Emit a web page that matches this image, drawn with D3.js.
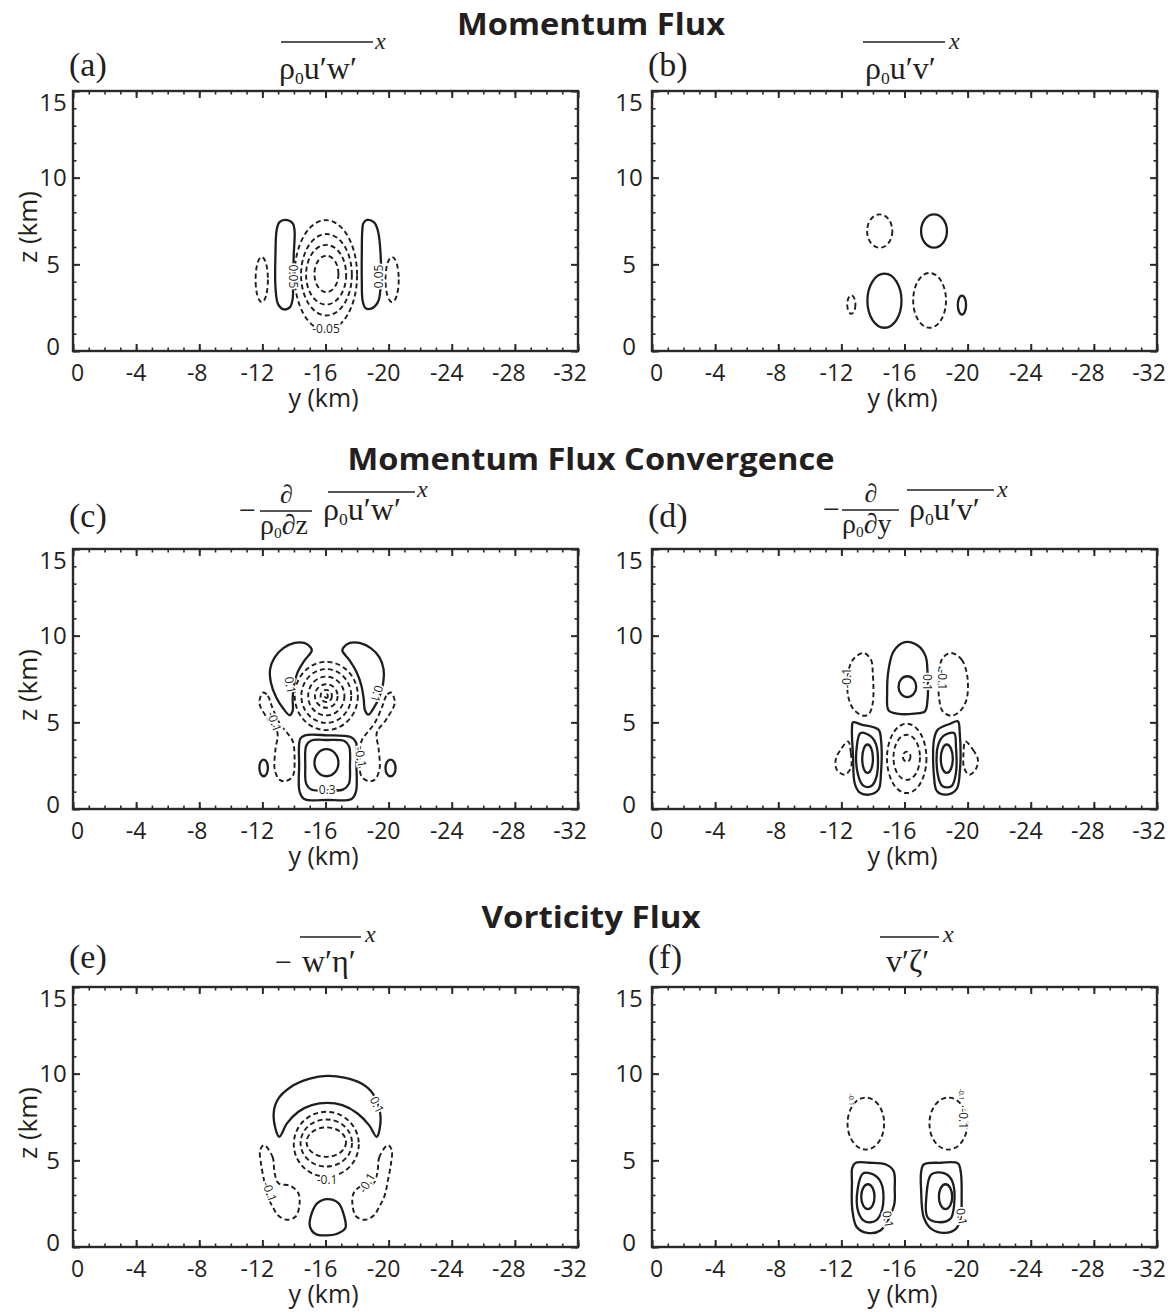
<!DOCTYPE html>
<html><head><meta charset="utf-8">
<script src="https://cdn.jsdelivr.net/npm/d3@7"></script>
<style>body{margin:0;background:#fff}</style>
</head><body>
<svg id="chart" width="1173" height="1312"></svg>
<script>
// ---------------- DATA ----------------
const rowTitles = ["Momentum Flux", "Momentum Flux Convergence", "Vorticity Flux"];
const panelLetters = ["(a)", "(b)", "(c)", "(d)", "(e)", "(f)"];
const yTickValues = [0, -4, -8, -12, -16, -20, -24, -28, -32];
const yTickLabels = ["0", "-4", "-8", "-12", "-16", "-20", "-24", "-28", "-32"];
const zTickValues = [0, 5, 10, 15];
const yDomain = [0, -32];
const zDomain = [0, 15];

// contours: level (negative = dashed); ellipse = [yc, zc, ry, rz] in km; points = [[y,z],...] in km
const contoursA = [
  {level: -0.20, ellipse: [-16.06, 4.45, 0.76, 1.05]},
  {level: -0.15, ellipse: [-16.04, 4.40, 1.27, 1.72]},
  {level: -0.10, ellipse: [-16.06, 4.40, 1.61, 2.35]},
  {level: -0.05, ellipse: [-16.02, 4.37, 1.98, 3.18]},
  {level: -0.05, ellipse: [-11.96, 4.12, 0.39, 1.30]},
  {level: -0.05, ellipse: [-20.22, 4.12, 0.42, 1.30]},
  {level: 0.05, points: [[-13.43,7.56],[-13.92,7.37],[-14.04,6.94],[-13.99,5.60],[-13.94,4.07],[-13.92,3.01],[-13.75,2.53],[-13.36,2.40],[-13.00,2.69],[-12.83,3.68],[-12.83,5.60],[-12.90,6.94],[-13.07,7.42]]},
  {level: 0.05, points: [[-18.64,7.56],[-19.08,7.42],[-19.32,6.94],[-19.49,5.60],[-19.49,3.68],[-19.32,2.82],[-18.88,2.44],[-18.52,2.49],[-18.35,2.92],[-18.30,4.07],[-18.30,5.60],[-18.33,6.94],[-18.40,7.37]]}
];
const labelsA = [
  {text: "0.05", at: [-13.97, 4.30], angle: 90},
  {text: "0.05", at: [-19.40, 4.30], angle: -90},
  {text: "-0.05", at: [-16.03, 1.30], angle: 0}
];

const contoursB = [
  {level: -0.05, ellipse: [-14.43, 6.92, 0.80, 0.96]},
  {level: 0.05, ellipse: [-17.87, 6.92, 0.82, 0.96]},
  {level: 0.05, ellipse: [-14.73, 2.90, 1.08, 1.56]},
  {level: -0.05, ellipse: [-17.59, 2.92, 1.04, 1.58]},
  {level: -0.05, ellipse: [-12.63, 2.68, 0.26, 0.53]},
  {level: 0.05, ellipse: [-19.64, 2.65, 0.26, 0.55]}
];
const labelsB = [];

const contoursC = [
  {level: 0.1, points: [[-15.06,9.32],[-14.65,9.58],[-14.04,9.58],[-13.31,9.27],[-12.78,8.75],[-12.49,8.07],[-12.54,7.30],[-12.88,6.43],[-13.36,5.75],[-13.73,5.41],[-13.92,5.66],[-13.92,6.33],[-13.99,7.10],[-14.23,7.88],[-14.65,8.55],[-15.13,9.13]]},
  {level: 0.1, points: [[-17.14,9.32],[-17.55,9.58],[-18.16,9.58],[-18.89,9.27],[-19.42,8.75],[-19.68,8.07],[-19.66,7.30],[-19.40,6.43],[-19.00,5.75],[-18.72,5.45],[-18.50,5.70],[-18.42,6.35],[-18.28,7.10],[-17.98,7.88],[-17.55,8.55],[-17.07,9.13]]},
  {level: -0.1, ellipse: [-16.05, 6.52, 2.00, 1.97]},
  {level: -0.3, ellipse: [-16.05, 6.52, 1.58, 1.55]},
  {level: -0.5, ellipse: [-16.05, 6.52, 1.15, 1.12]},
  {level: -0.7, ellipse: [-16.05, 6.52, 0.72, 0.68]},
  {level: -0.9, ellipse: [-16.05, 6.52, 0.36, 0.35]},
  {level: -1.1, ellipse: [-16.05, 6.52, 0.10, 0.12]},
  {level: 0.1, points: [[-14.40,4.05],[-14.70,4.25],[-16.10,4.25],[-17.60,4.15],[-17.93,3.85],[-17.96,2.50],[-17.93,1.00],[-17.65,0.58],[-16.15,0.52],[-14.65,0.58],[-14.36,1.00],[-14.33,2.50]]},
  {level: 0.3, points: [[-14.78,3.65],[-15.10,3.95],[-16.10,3.98],[-17.20,3.92],[-17.50,3.60],[-17.55,2.50],[-17.48,1.45],[-17.10,1.12],[-16.10,1.08],[-15.10,1.12],[-14.78,1.45],[-14.72,2.50]]},
  {level: 0.5, ellipse: [-16.06, 2.67, 0.76, 0.78]},
  {level: -0.1, points: [[-12.06,6.72],[-12.35,6.53],[-12.59,5.95],[-13.07,4.98],[-13.56,4.40],[-13.92,3.92],[-14.04,2.86],[-13.92,1.89],[-13.43,1.60],[-13.07,1.70],[-12.78,2.28],[-12.83,3.44],[-12.95,4.40],[-12.35,5.17],[-11.81,6.14]]},
  {level: -0.1, points: [[-20.14,6.72],[-19.85,6.53],[-19.61,5.95],[-19.13,4.98],[-18.64,4.40],[-18.28,3.92],[-18.16,2.86],[-18.28,1.89],[-18.77,1.60],[-19.13,1.70],[-19.42,2.28],[-19.37,3.44],[-19.25,4.40],[-19.85,5.17],[-20.39,6.14]]},
  {level: 0.1, ellipse: [-12.08, 2.37, 0.27, 0.48]},
  {level: 0.1, ellipse: [-20.12, 2.37, 0.32, 0.48]}
];
const labelsC = [
  {text: "0.1", at: [-13.75, 7.15], angle: 80},
  {text: "0.1", at: [-19.25, 6.65], angle: 105},
  {text: "-0.1", at: [-12.75, 5.05], angle: 70},
  {text: "-0.1", at: [-18.22, 3.00], angle: 80},
  {text: "0.3", at: [-16.10, 1.12], angle: 0}
];

const contoursD = [
  {level: 0.1, points: [[-16.02,9.63],[-16.86,9.42],[-17.34,8.81],[-17.46,7.85],[-17.46,6.31],[-17.29,5.63],[-16.62,5.50],[-15.54,5.50],[-14.99,5.69],[-14.90,6.69],[-14.99,8.04],[-15.31,9.10]]},
  {level: 0.3, ellipse: [-16.18, 7.06, 0.56, 0.60]},
  {level: -0.1, points: [[-13.39,9.00],[-13.87,8.62],[-13.99,7.85],[-13.99,6.12],[-13.75,5.50],[-13.39,5.38],[-12.79,5.73],[-12.43,6.50],[-12.43,7.85],[-12.74,8.62]]},
  {level: -0.1, points: [[-18.97,9.00],[-19.62,8.62],[-19.98,7.65],[-19.93,6.31],[-19.50,5.63],[-18.97,5.38],[-18.42,5.63],[-18.18,6.50],[-18.18,7.85],[-18.42,8.71]]},
  {level: 0.1, points: [[-12.74,5.00],[-13.27,4.87],[-14.35,4.58],[-14.51,4.00],[-14.51,2.08],[-14.35,1.12],[-13.75,0.83],[-13.15,0.96],[-12.84,1.50],[-12.74,3.04],[-12.67,4.58]]},
  {level: 0.3, points: [[-13.22,4.38],[-13.87,4.19],[-14.23,3.62],[-14.23,1.88],[-13.87,1.31],[-13.39,1.35],[-13.03,2.08],[-12.98,3.62]]},
  {level: 0.5, ellipse: [-13.66, 2.90, 0.34, 0.82]},
  {level: 0.1, points: [[-19.38,5.06],[-19.50,4.38],[-19.50,2.08],[-19.30,1.15],[-18.66,0.83],[-18.06,1.02],[-17.87,1.88],[-17.87,4.00],[-18.11,4.58],[-18.90,4.92]]},
  {level: 0.3, points: [[-19.14,4.38],[-19.26,3.62],[-19.26,2.08],[-18.97,1.31],[-18.42,1.31],[-18.11,1.98],[-18.11,3.62],[-18.49,4.23]]},
  {level: 0.5, ellipse: [-18.68, 2.90, 0.38, 0.82]},
  {level: -0.1, ellipse: [-16.14, 2.92, 1.25, 2.00]},
  {level: -0.3, ellipse: [-16.14, 2.98, 0.84, 1.30]},
  {level: -0.5, ellipse: [-16.14, 3.02, 0.24, 0.29]},
  {level: -0.1, points: [[-12.43,3.90],[-12.60,3.23],[-12.60,2.37],[-12.19,1.98],[-11.71,2.27],[-11.64,2.85],[-11.95,3.42]]},
  {level: -0.1, points: [[-19.86,3.90],[-20.34,3.42],[-20.65,2.85],[-20.50,2.27],[-20.10,1.98],[-19.78,2.37],[-19.74,3.23]]}
];
const labelsD = [
  {text: "-0.1", at: [-12.35, 7.55], angle: -90},
  {text: "0.1", at: [-17.42, 7.30], angle: 90},
  {text: "-0.1", at: [-18.40, 7.45], angle: 90}
];

const contoursE = [
  {level: 0.1, points: [[-13.07,6.36],[-12.71,7.51],[-12.95,8.47],[-13.80,9.23],[-15.01,9.71],[-16.10,9.87],[-17.19,9.77],[-18.28,9.43],[-19.00,8.85],[-19.49,7.51],[-19.24,6.36],[-18.76,7.03],[-18.03,7.70],[-17.07,8.18],[-16.10,8.31],[-15.13,8.18],[-14.28,7.80],[-13.56,7.13]]},
  {level: -0.1, ellipse: [-16.05, 5.93, 2.06, 1.87]},
  {level: -0.3, ellipse: [-16.05, 6.00, 1.63, 1.36]},
  {level: -0.5, ellipse: [-16.05, 6.05, 1.25, 0.85]},
  {level: -0.1, points: [[-12.10,5.88],[-12.64,5.21],[-12.78,4.25],[-13.02,3.68],[-13.80,3.52],[-14.28,3.10],[-14.35,2.43],[-14.11,1.76],[-13.56,1.57],[-13.02,1.80],[-12.64,2.34],[-12.30,3.01],[-12.10,3.87],[-11.91,4.83],[-11.86,5.59]]},
  {level: -0.1, points: [[-19.96,5.88],[-19.42,5.21],[-19.28,4.25],[-19.04,3.68],[-18.26,3.52],[-17.78,3.10],[-17.71,2.43],[-17.95,1.76],[-18.50,1.57],[-19.04,1.80],[-19.42,2.34],[-19.76,3.01],[-19.96,3.87],[-20.15,4.83],[-20.20,5.59]]},
  {level: 0.1, points: [[-16.10,2.76],[-16.82,2.53],[-17.19,1.76],[-17.26,1.09],[-16.70,0.75],[-16.10,0.67],[-15.37,0.75],[-15.01,1.19],[-15.13,1.95],[-15.49,2.53]]}
];
const labelsE = [
  {text: "0.1", at: [-19.25, 8.20], angle: 65},
  {text: "-0.1", at: [-16.10, 3.90], angle: 0},
  {text: "-0.1", at: [-12.45, 3.20], angle: 70},
  {text: "-0.1", at: [-18.62, 3.70], angle: -60}
];

const contoursF = [
  {level: -0.1, ellipse: [-13.55, 7.12, 1.16, 1.50]},
  {level: -0.1, ellipse: [-18.78, 7.12, 1.20, 1.50]},
  {level: 0.1, points: [[-12.91,4.86],[-13.75,4.86],[-14.83,4.76],[-15.31,4.38],[-15.38,3.33],[-15.33,2.38],[-14.47,0.95],[-13.63,0.82],[-12.98,1.14],[-12.69,2.19],[-12.67,3.71],[-12.69,4.57]]},
  {level: 0.3, points: [[-13.39,4.25],[-14.18,4.10],[-14.59,3.52],[-14.59,2.19],[-14.18,1.52],[-13.51,1.47],[-13.08,2.00],[-13.03,3.33]]},
  {level: 0.5, ellipse: [-13.68, 2.90, 0.42, 0.72]},
  {level: 0.1, points: [[-17.22,4.76],[-18.30,4.86],[-19.38,4.82],[-19.57,4.29],[-19.62,2.76],[-19.57,1.71],[-19.26,1.05],[-18.54,0.82],[-17.70,1.05],[-17.22,1.71],[-17.05,3.33],[-17.05,4.29]]},
  {level: 0.3, points: [[-17.70,4.19],[-18.54,4.25],[-19.02,3.81],[-19.14,2.38],[-18.90,1.62],[-18.18,1.43],[-17.46,1.71],[-17.39,2.95]]},
  {level: 0.5, ellipse: [-18.60, 2.90, 0.42, 0.72]}
];
const labelsF = [
  {text: "0.1", at: [-14.95, 1.60], angle: 80},
  {text: "0.1", at: [-19.62, 1.75], angle: 80},
  {text: "-0.1", at: [-19.74, 7.40], angle: 90},
  {text: "-0.1", at: [-12.62, 8.50], angle: 90, small: true},
  {text: "-0.1", at: [-19.58, 8.80], angle: 90, small: true}
];

const panelContours = [contoursA, contoursB, contoursC, contoursD, contoursE, contoursF];
const panelLabels = [labelsA, labelsB, labelsC, labelsD, labelsE, labelsF];

// ---------------- LAYOUT ----------------
const W = 505, H = 260;
const colX = [73, 652];
const rowY = [91, 549, 987];
const INK = "#231f20";
const sans = "'Open Sans', 'Noto Sans', sans-serif";
const serif = "'Liberation Serif', 'Times New Roman', serif";

const svg = d3.select("#chart");

// row titles
const titleLayout = [{y: 35, w: 268}, {y: 470, w: 487}, {y: 928, w: 219}];
rowTitles.forEach((t, i) => {
  svg.append("text").attr("x", 591).attr("y", titleLayout[i].y)
    .attr("text-anchor", "middle").attr("font-family", sans).attr("font-weight", 700)
    .attr("font-size", 30).attr("fill", INK)
    .attr("textLength", titleLayout[i].w).attr("lengthAdjust", "spacingAndGlyphs")
    .text(t);
});

const xLabelNudge = [4.5, 0, -2, -5, -5, -5, -5, -6, -8];

panelLetters.forEach((letter, i) => {
  const col = i % 2, row = Math.floor(i / 2);
  const ox = colX[col], oy = rowY[row];
  const x = d3.scaleLinear().domain(yDomain).range([0, W]);
  const z = d3.scaleLinear().domain(zDomain).range([H, 0]);
  const g = svg.append("g").attr("transform", `translate(${ox},${oy})`);

  // minor ticks (every 1 km) and major ticks, inward on all four sides
  const yMinor = d3.range(0, -32.5, -1);
  const zMinor = d3.range(0, 15.5, 1);
  const styleAxis = (sel, w) => {
    sel.select(".domain").remove();
    sel.selectAll(".tick line").attr("stroke", "#2a2a2a").attr("stroke-width", w);
    sel.selectAll(".tick text").remove();
  };
  g.append("g").attr("transform", `translate(0,${H})`).call(d3.axisBottom(x).tickValues(yMinor).tickSize(-3.5)).call(s => styleAxis(s, 1.6));
  g.append("g").call(d3.axisTop(x).tickValues(yMinor).tickSize(-3.5)).call(s => styleAxis(s, 1.6));
  g.append("g").call(d3.axisLeft(z).tickValues(zMinor).tickSize(-3.5)).call(s => styleAxis(s, 1.6));
  g.append("g").attr("transform", `translate(${W},0)`).call(d3.axisRight(z).tickValues(zMinor).tickSize(-3.5)).call(s => styleAxis(s, 1.6));
  g.append("g").attr("transform", `translate(0,${H})`).call(d3.axisBottom(x).tickValues(yTickValues).tickSize(-7)).call(s => styleAxis(s, 2));
  g.append("g").call(d3.axisTop(x).tickValues(yTickValues).tickSize(-7)).call(s => styleAxis(s, 2));
  g.append("g").call(d3.axisLeft(z).tickValues(zTickValues).tickSize(-7)).call(s => styleAxis(s, 2));
  g.append("g").attr("transform", `translate(${W},0)`).call(d3.axisRight(z).tickValues(zTickValues).tickSize(-7)).call(s => styleAxis(s, 2));

  // frame
  g.append("rect").attr("x", 0).attr("y", 0).attr("width", W).attr("height", H)
    .attr("fill", "none").attr("stroke", "#2a2a2a").attr("stroke-width", 2.4);

  // tick labels
  yTickValues.forEach((v, k) => {
    g.append("text").attr("x", x(v) + xLabelNudge[k]).attr("y", H + 30)
      .attr("text-anchor", "middle").attr("font-family", sans).attr("font-size", 23)
      .attr("fill", INK).text(yTickLabels[k]);
  });
  zTickValues.forEach(v => {
    const nudge = v === 15 ? 11 : (v === 0 ? -4.5 : 0);
    g.append("text").attr("x", col === 0 ? -20 : -23).attr("y", z(v) + nudge + 8.5)
      .attr("text-anchor", "middle").attr("font-family", sans).attr("font-size", 24)
      .attr("fill", INK).text(v);
  });
  g.append("text").attr("x", W / 2 - 2).attr("y", H + 56).attr("text-anchor", "middle")
    .attr("font-family", sans).attr("font-size", 25).attr("fill", INK).text("y (km)");
  if (col === 0) {
    g.append("text").attr("transform", `translate(${28 - ox + 9},${H / 2 + 6}) rotate(-90)`)
      .attr("text-anchor", "middle").attr("font-family", sans).attr("font-size", 26)
      .attr("fill", INK).text("z (km)");
  }

  // contours
  const line = d3.line().x(d => x(d[0])).y(d => z(d[1])).curve(d3.curveCatmullRomClosed.alpha(0.5));
  const cg = g.append("g").attr("fill", "none").attr("stroke", "#1e1e1e");
  panelContours[i].forEach(c => {
    let el;
    if (c.ellipse) {
      const [yc, zc, ry, rz] = c.ellipse;
      el = cg.append("ellipse").attr("cx", x(yc)).attr("cy", z(zc))
        .attr("rx", Math.abs(x(yc + ry) - x(yc))).attr("ry", Math.abs(z(zc + rz) - z(zc)));
    } else {
      el = cg.append("path").attr("d", line(c.points));
    }
    if (c.level < 0) el.attr("stroke-width", 1.9).attr("stroke-dasharray", "5,3.2");
    else el.attr("stroke-width", 2.3);
  });
  panelLabels[i].forEach(l => {
    g.append("text").attr("transform", `translate(${x(l.at[0])},${z(l.at[1])}) rotate(${l.angle})`)
      .attr("text-anchor", "middle").attr("dy", "0.35em")
      .attr("font-family", sans).attr("font-size", l.small ? 7 : 12).attr("fill", INK)
      .attr("stroke", "#fff").attr("stroke-width", l.small ? 1.5 : 3.5).attr("paint-order", "stroke")
      .text(l.text);
  });

  // panel letter
  svg.append("text").attr("x", ox - 4).attr("y", [76, 527, 968][row])
    .attr("font-family", serif).attr("font-size", 34).attr("fill", INK).text(letter);
});

// ---------------- FORMULA TITLES ----------------
function rhoZero(t, size) {
  t.append("tspan").text("ρ");
  t.append("tspan").attr("font-size", size * 0.55).attr("dy", size * 0.16).text("0");
}
function addText(x, y, size) {
  return svg.append("text").attr("x", x).attr("y", y).attr("font-family", serif)
    .attr("font-size", size).attr("fill", INK);
}
function overline(x1, x2, y, xx, xy) {
  svg.append("line").attr("x1", x1).attr("x2", x2).attr("y1", y).attr("y2", y)
    .attr("stroke", INK).attr("stroke-width", 1.6);
  svg.append("text").attr("x", xx).attr("y", xy).attr("font-family", serif)
    .attr("font-style", "italic").attr("font-size", 24).attr("fill", INK).text("x");
}
function fluxTerm(x, y, size, rest) {
  const t = addText(x, y, size);
  rhoZero(t, size);
  t.append("tspan").attr("dy", -size * 0.16).text(rest);
}
function derivative(mx, fx1, fx2, ly, v) {
  addText(mx, ly + 9, 30).text("−");
  addText((fx1 + fx2) / 2 - 6, ly - 8, 26).text("∂");
  svg.append("line").attr("x1", fx1).attr("x2", fx2).attr("y1", ly).attr("y2", ly)
    .attr("stroke", INK).attr("stroke-width", 1.5);
  const t = addText(fx1, ly + 23, 28);
  rhoZero(t, 28);
  t.append("tspan").attr("dy", -28 * 0.16).text("∂" + v);
}
// (a)
fluxTerm(279, 79, 32, "u′w′"); overline(281, 373, 42, 375, 49);
// (b)
fluxTerm(865, 79, 32, "u′v′"); overline(863, 945, 42, 949, 49);
// (c)
derivative(239, 260, 312, 511, "z");
fluxTerm(323, 520, 32, "u′w′"); overline(328, 415, 492, 417, 497);
// (d)
derivative(823, 842, 899, 510, "y");
fluxTerm(909, 520, 32, "u′v′"); overline(907, 994, 490, 997, 497);
// (e)
addText(275, 972, 30).text("−");
addText(302, 972, 32).text("w′η′"); overline(300, 361, 937, 365, 942);
// (f)
addText(886, 972, 32).text("v′ζ′"); overline(880, 939, 937, 943, 942);
</script>
</body></html>
